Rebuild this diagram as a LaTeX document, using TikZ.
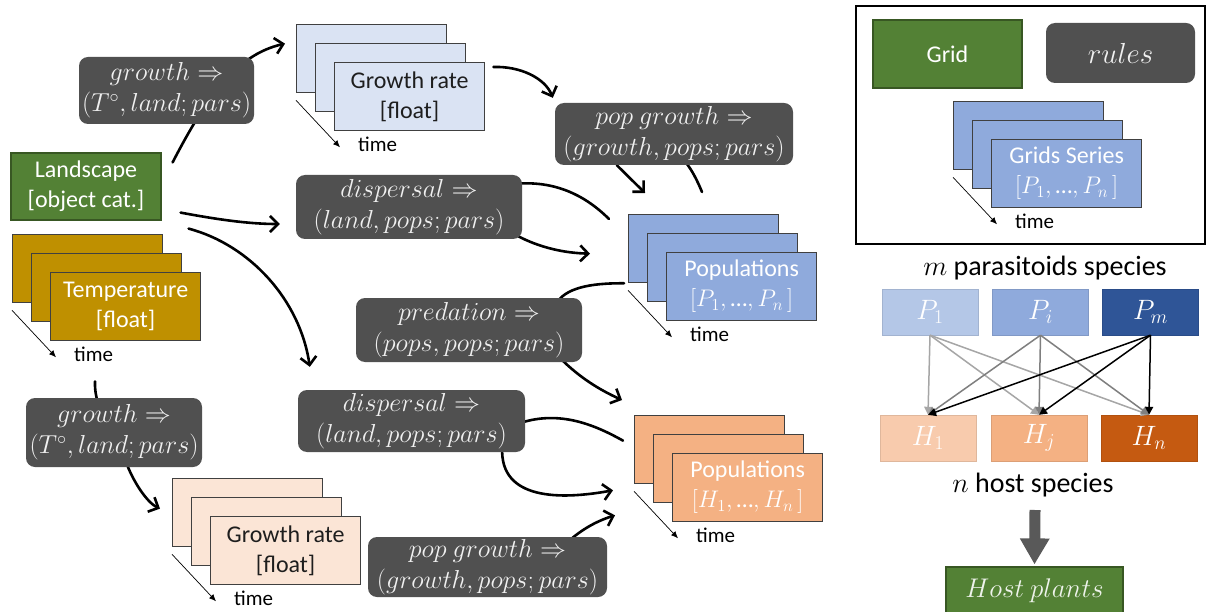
\RequirePackage{fix-cm}
\documentclass[tikz,border=0pt]{standalone}
\usepackage{fontspec}
\setmainfont{Carlito}
\usetikzlibrary{arrows.meta,calc,backgrounds}

\definecolor{rulegray}{HTML}{505050}
\definecolor{rtext}{HTML}{F0F0F0}
\definecolor{lgreen}{HTML}{538135}
\definecolor{lgreenb}{HTML}{385723}
\definecolor{gold}{HTML}{BF9000}
\definecolor{lblue}{HTML}{DAE3F3}
\definecolor{mblue}{HTML}{8FAADC}
\definecolor{lsalmon}{HTML}{FBE5D6}
\definecolor{morange}{HTML}{F4B183}
\definecolor{pone}{HTML}{B4C7E7}
\definecolor{pem}{HTML}{2F5597}
\definecolor{hone}{HTML}{F8CBAD}
\definecolor{hen}{HTML}{C55A11}
\definecolor{edgegray}{HTML}{404040}
\definecolor{darktext}{HTML}{1E1E1E}
\definecolor{arrlight}{HTML}{A6A6A6}
\definecolor{arrmid}{HTML}{7F7F7F}
\definecolor{bigarrow}{HTML}{595959}

\newcommand\layerstack[6]{%
  \node[layer, fill=#4] (#1b) at (#2,#3) {};
  \node[layer, fill=#4] (#1m) at (#2+19,#3+19) {};
  \node[layer, fill=#4, text=#5] (#1) at (#2+38,#3+38) {#6};
  \coordinate (#1ts) at ($(#1b.south west)+(0,7)$);
  \coordinate (#1te) at ($(#1b.south west)+(44,54)$);
  \draw[timearrow] (#1ts) -- (#1te);
  \node[timelabel] (#1t) at ($(#1te)+(18,-3)$) {time};
}
\newcommand\popset[1]{$[#1_1,\,$…$,#1_n\,]$}

\begin{document}
\begin{tikzpicture}[x=1pt,y=-1pt,
  rulebox/.style={fill=rulegray, rounded corners=9pt, text=rtext, align=center,
    inner sep=0pt, font=\fontsize{26}{31}\selectfont},
  greenbox/.style={fill=lgreen, draw=lgreenb, line width=1.2pt, text=white,
    align=center, inner sep=0pt, font=\fontsize{24}{30}\selectfont},
  layer/.style={draw=edgegray, line width=1.3pt, minimum width=150pt,
    minimum height=68pt, anchor=north west, inner sep=0pt, align=center,
    font=\fontsize{24}{30}\selectfont},
  flow/.style={line width=2.6pt, line cap=round,
    -{Straight Barb[length=8pt,width=16pt]}},
  feed/.style={line width=2.6pt, line cap=round},
  timearrow/.style={line width=0.7pt, -{Latex[length=7pt,width=6pt]}},
  timelabel/.style={anchor=west, inner sep=0pt, font=\fontsize{21}{24}\selectfont},
  spbox/.style={minimum width=96pt, minimum height=46pt, inner sep=0pt,
    text=white, font=\fontsize{28}{30}\selectfont},
  sparrow/.style={line width=1.5pt, -{Triangle[length=8pt,width=8pt]}},
  caption/.style={inner sep=0pt, font=\fontsize{28}{30}\selectfont}
]
\useasboundingbox (0,0) rectangle (1209,612);
\begin{pgfonlayer}{background}
  \fill[white] (0,0) rectangle (1209,612);
\end{pgfonlayer}

% ---------- main flow ----------
\node[greenbox, minimum width=150pt, minimum height=67pt] (L) at (86,186.5)
  {Landscape\\{[object cat.]}};

\layerstack{T}{12}{234}{gold}{white}{Temperature\\{[float]}}
\layerstack{GRa}{296}{24}{lblue}{darktext}{Growth rate\\{[float]}}
\layerstack{P}{628}{214}{mblue}{white}{Populations\\{\popset{P}}}
\layerstack{H}{634}{415}{morange}{white}{Populations\\{\popset{H}}}
\layerstack{GRb}{172}{478}{lsalmon}{darktext}{Growth rate\\{[float]}}

\node[rulebox, minimum width=175pt, minimum height=67pt] (g1) at (166.5,90.5)
  {$growth \Rightarrow$\\$(T^{\circ}, land; pars)$};
\node[rulebox, minimum width=238pt, minimum height=62pt] (pg1) at (674,134)
  {$pop\ growth \Rightarrow$\\$(growth, pops; pars)$};
\node[rulebox, minimum width=226pt, minimum height=64pt] (d1) at (409,207)
  {$dispersal \Rightarrow$\\$(land, pops; pars)$};
\node[rulebox, minimum width=226pt, minimum height=64pt] (pr) at (469,330)
  {$predation \Rightarrow$\\$(pops, pops; pars)$};
\node[rulebox, minimum width=176pt, minimum height=69pt] (g2) at (114,432.5)
  {$growth \Rightarrow$\\$(T^{\circ}, land; pars)$};
\node[rulebox, minimum width=227pt, minimum height=62pt] (d2) at (411.5,421)
  {$dispersal \Rightarrow$\\$(land, pops; pars)$};
\node[rulebox, minimum width=239pt, minimum height=60pt] (pg2) at (487.5,567)
  {$pop\ growth \Rightarrow$\\$(growth, pops; pars)$};

\begin{pgfonlayer}{background}
  \draw[flow] ($(L.north east)+(11,10)$) .. controls (205,100) and (235,55) .. ($(GRab.west)+(-11,-15)$);
  \draw[flow] ($(L.south east)+(19,-8)$) .. controls (220,220) and (250,224) .. ($(d1.west)+(-16,17)$);
  \draw[flow] ($(L.south east)+(27,8)$) .. controls (250,245) and (300,300) .. ($(d2.north west)+(12,-23)$);
  \draw[flow] ($(GRa.north east)+(8,5)$) .. controls (520,66) and (545,78) .. ($(pg1.north west)+(-2,-5)$);
  \draw[flow] ($(pg1.south west)+(62,0)$) -- ($(Pb.north west)+(17,-21)$);
  \draw[feed] ($(Pb.north west)+(74,-22)$) .. controls (697,180) and (692,170) .. ($(pg1.south west)+(130,-4)$);
  \draw[feed] ($(Pb.north west)+(-19,5)$) .. controls (590,200) and (560,180) .. ($(d1.north east)+(-6,9)$);
  \draw[flow] ($(d1.south east)+(-6,-4)$) .. controls (540,248) and (565,253) .. ($(Pb.west)+(-38,5)$);
  \draw[feed] ($(Pb.south west)+(-4,0)$) .. controls (590,283) and (565,288) .. ($(pr.north east)+(-26,6)$);
  \draw[flow] ($(pr.south east)+(-22,-4)$) .. controls (580,378) and (600,390) .. ($(Hb.north west)+(-12,-15)$);
  \draw[feed] ($(Hb.west)+(-11,-9)$) .. controls (595,425) and (560,410) .. ($(d2.east)+(-5,2)$);
  \draw[flow] ($(d2.south east)+(-23,-4)$) .. controls (500,500) and (560,500) .. ($(Hb.south west)+(-21,6)$);
  \draw[flow] ($(pg2.north east)+(-37,3)$) .. controls (585,527) and (600,520) .. ($(Hb.south west)+(-19,31)$);
  \draw[feed] ($(T.south west)+(45,40)$) .. controls (95,390) .. ($(g2.north west)+(72,6)$);
  \draw[flow] ($(g2.south west)+(101,-3)$) .. controls (135,485) and (148,503) .. ($(GRbb.west)+(-12,-4)$);
\end{pgfonlayer}

% ---------- legend panel ----------
\node[draw=black, line width=1.8pt, minimum width=349pt, minimum height=238pt,
  inner sep=0pt] (frame) at (1030.5,125) {};
\node[greenbox, minimum width=149pt, minimum height=68pt] (grid) at (947.5,54) {Grid};
\node[rulebox, minimum width=149pt, minimum height=60pt,
  font=\fontsize{29}{30}\selectfont] (rules) at (1120.5,53) {$rules$};
\layerstack{GS}{953}{101}{mblue}{white}{Grids Series\\{\popset{P}}}

% ---------- species network ----------
\node[caption] (ms) at (1045,268) {$m$ parasitoids species};
\node[spbox, fill=pone, draw=pone!90!black] (P1) at (930,312) {$P_1$};
\node[spbox, fill=mblue, draw=mblue!90!black] (Pi) at (1040.5,312) {$P_i$};
\node[spbox, fill=pem, draw=pem!90!black] (Pm) at (1150.5,312) {$P_m$};
\node[spbox, fill=hone, draw=hone!90!black] (H1) at (928,438) {$H_1$};
\node[spbox, fill=morange, draw=morange!90!black] (Hj) at (1039,438) {$H_j$};
\node[spbox, fill=hen, draw=hen!90!black] (Hn) at (1149,438) {$H_n$};

\foreach \h in {H1,Hj,Hn} \draw[sparrow, arrlight] (P1.south) -- (\h.north);
\foreach \h in {H1,Hj,Hn} \draw[sparrow, arrmid] (Pi.south) -- (\h.north);
\foreach \h in {H1,Hj,Hn} \draw[sparrow, black] (Pm.south) -- (\h.north);

\node[caption] (ns) at (1033,485) {$n$ host species};
\node[greenbox, minimum width=177pt, minimum height=47pt, text=white!90!lgreen,
  font=\fontsize{27}{30}\selectfont] (HP) at (1034.5,590.5) {$Host\ plants$};
\draw[line width=11pt, bigarrow, -{Triangle[length=26pt,width=28pt]}]
  ($(ns.center)+(2,25)$) -- ($(HP.north)+(0,-2)$);
\end{tikzpicture}
\end{document}
